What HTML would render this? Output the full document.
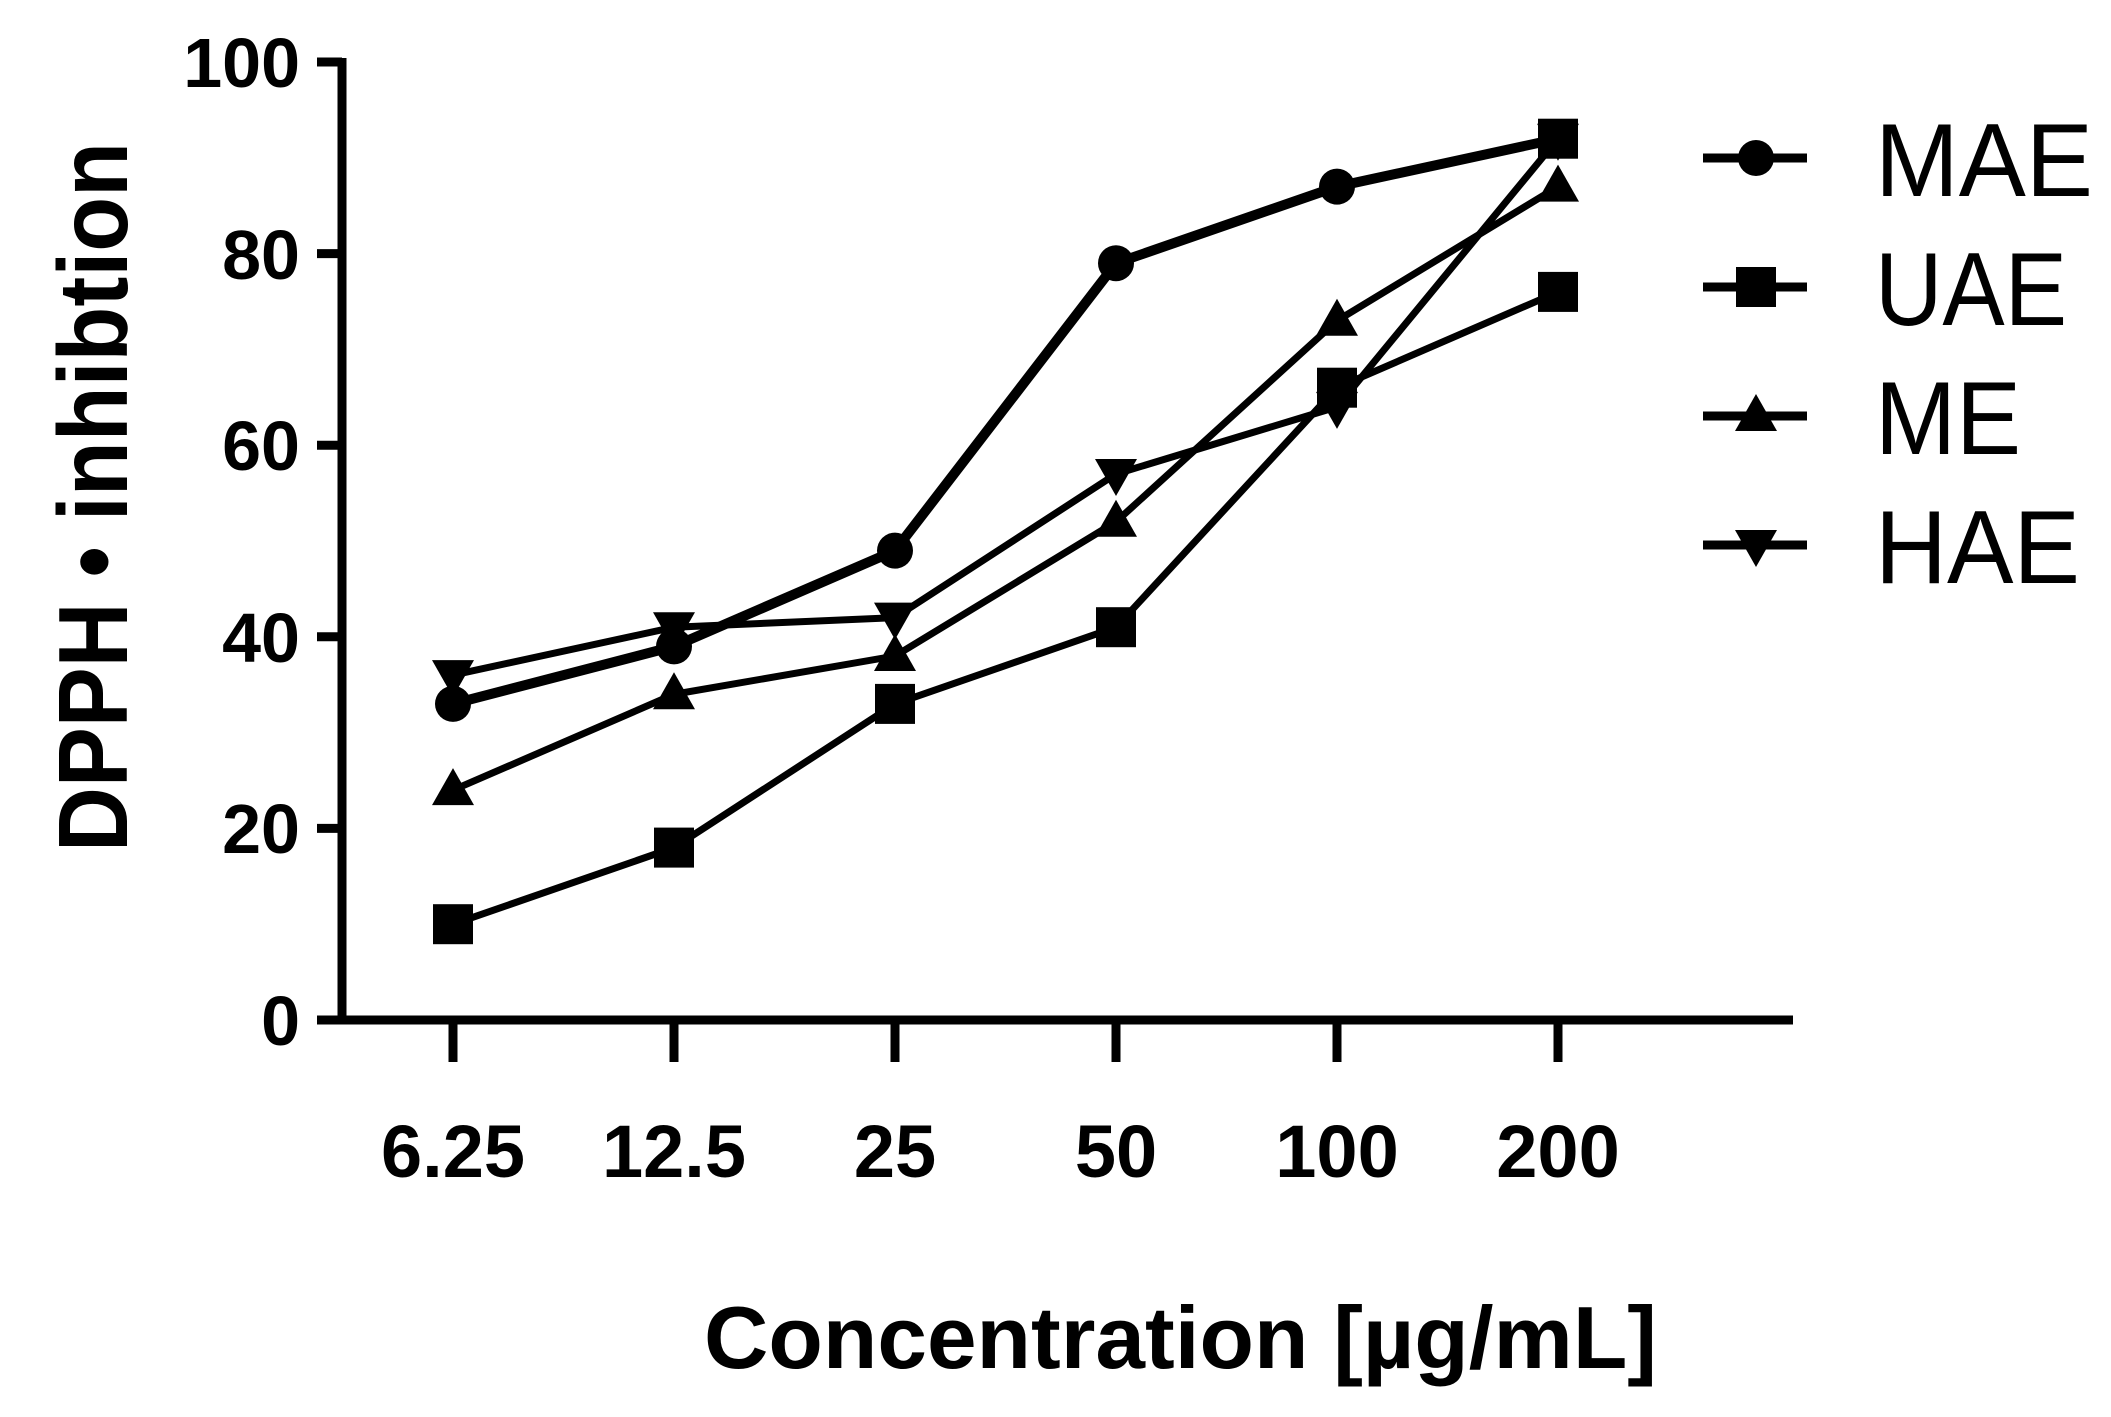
<!DOCTYPE html>
<html><head><meta charset="utf-8"><style>
html,body{margin:0;padding:0;background:#fff;}
svg{display:block;}
</style></head><body>
<svg width="2111" height="1417" viewBox="0 0 2111 1417" xmlns="http://www.w3.org/2000/svg">
<defs>
<g id="sq"><rect x="-20" y="-20" width="40" height="40" fill="#000"/></g>
<g id="ci"><circle r="18" fill="#000"/></g>
<g id="tu"><polygon points="0,-22 21,15 -21,15" fill="#000"/></g>
<g id="td"><polygon points="0,22 21,-15 -21,-15" fill="#000"/></g>
</defs>
<g stroke="#000" stroke-width="9" fill="none">
<line x1="342" y1="58" x2="342" y2="1024"/>
<line x1="338" y1="1020" x2="1793" y2="1020"/>
<line x1="317" y1="62" x2="342" y2="62"/>
<line x1="317" y1="253.6" x2="342" y2="253.6"/>
<line x1="317" y1="445.2" x2="342" y2="445.2"/>
<line x1="317" y1="636.8" x2="342" y2="636.8"/>
<line x1="317" y1="828.4" x2="342" y2="828.4"/>
<line x1="317" y1="1020" x2="342" y2="1020"/>
<line x1="453" y1="1020" x2="453" y2="1062"/>
<line x1="674" y1="1020" x2="674" y2="1062"/>
<line x1="895" y1="1020" x2="895" y2="1062"/>
<line x1="1116" y1="1020" x2="1116" y2="1062"/>
<line x1="1337" y1="1020" x2="1337" y2="1062"/>
<line x1="1558" y1="1020" x2="1558" y2="1062"/>
</g>
<g font-family="Liberation Sans, sans-serif" font-weight="bold" font-size="70" text-anchor="end" fill="#000">
<text x="300" y="87">100</text>
<text x="300" y="279">80</text>
<text x="300" y="470">60</text>
<text x="300" y="662">40</text>
<text x="300" y="853">20</text>
<text x="300" y="1045">0</text>
</g>
<g font-family="Liberation Sans, sans-serif" font-weight="bold" font-size="74" text-anchor="middle" fill="#000">
<text x="453" y="1177">6.25</text>
<text x="674" y="1177">12.5</text>
<text x="895" y="1177">25</text>
<text x="1116" y="1177">50</text>
<text x="1337" y="1177">100</text>
<text x="1558" y="1177">200</text>
</g>
<text x="704" y="1368" font-family="Liberation Sans, sans-serif" font-weight="bold" font-size="88" textLength="953" lengthAdjust="spacingAndGlyphs" fill="#000">Concentration [µg/mL]</text>
<text transform="translate(127,852) rotate(-90)" x="0" y="0" font-family="Liberation Sans, sans-serif" font-weight="bold" font-size="98" textLength="710" lengthAdjust="spacingAndGlyphs" fill="#000">DPPH • inhibtion</text>

<polyline fill="none" stroke="#000" stroke-width="7" points="453,924.2 674,847.6 895,703.9 1116,627.2 1337,387.7 1558,291.9"/>
<g><use href="#sq" x="453" y="924.2"/><use href="#sq" x="674" y="847.6"/><use href="#sq" x="895" y="703.9"/><use href="#sq" x="1116" y="627.2"/><use href="#sq" x="1337" y="387.7"/><use href="#sq" x="1558" y="291.9"/></g>
<polyline fill="none" stroke="#000" stroke-width="7" points="453,790.1 674,694.3 895,656 1116,521.8 1337,320.7 1558,186.6"/>
<g><use href="#tu" x="453" y="790.1"/><use href="#tu" x="674" y="694.3"/><use href="#tu" x="895" y="656"/><use href="#tu" x="1116" y="521.8"/><use href="#tu" x="1337" y="320.7"/><use href="#tu" x="1558" y="186.6"/></g>
<polyline fill="none" stroke="#000" stroke-width="7" points="453,675.1 674,627.2 895,617.6 1116,474 1337,406.9 1558,138.7"/>
<g><use href="#td" x="453" y="675.1"/><use href="#td" x="674" y="627.2"/><use href="#td" x="895" y="617.6"/><use href="#td" x="1116" y="474"/><use href="#td" x="1337" y="406.9"/><use href="#td" x="1558" y="138.7"/></g>
<polyline fill="none" stroke="#000" stroke-width="10" points="453,703.9 674,646.4 895,550.6 1116,263.2 1337,186.6 1558,138.7"/>
<g><use href="#ci" x="453" y="703.9"/><use href="#ci" x="674" y="646.4"/><use href="#ci" x="895" y="550.6"/><use href="#ci" x="1116" y="263.2"/><use href="#ci" x="1337" y="186.6"/><use href="#sq" x="1558" y="138.7"/></g>

<g stroke="#000" stroke-width="9">
<line x1="1703" y1="158" x2="1807" y2="158"/>
<line x1="1703" y1="287" x2="1807" y2="287"/>
<line x1="1703" y1="416" x2="1807" y2="416"/>
<line x1="1703" y1="545" x2="1807" y2="545"/>
</g>
<use href="#ci" x="1756" y="158"/>
<use href="#sq" x="1756" y="287"/>
<use href="#tu" x="1756" y="416"/>
<use href="#td" x="1756" y="545"/>
<g font-family="Liberation Sans, sans-serif" font-size="104" fill="#000">
<text x="1875" y="196" textLength="218" lengthAdjust="spacingAndGlyphs">MAE</text>
<text x="1875" y="325" textLength="192" lengthAdjust="spacingAndGlyphs">UAE</text>
<text x="1875" y="454" textLength="146" lengthAdjust="spacingAndGlyphs">ME</text>
<text x="1875" y="583" textLength="205" lengthAdjust="spacingAndGlyphs">HAE</text>
</g>
</svg>
</body></html>
